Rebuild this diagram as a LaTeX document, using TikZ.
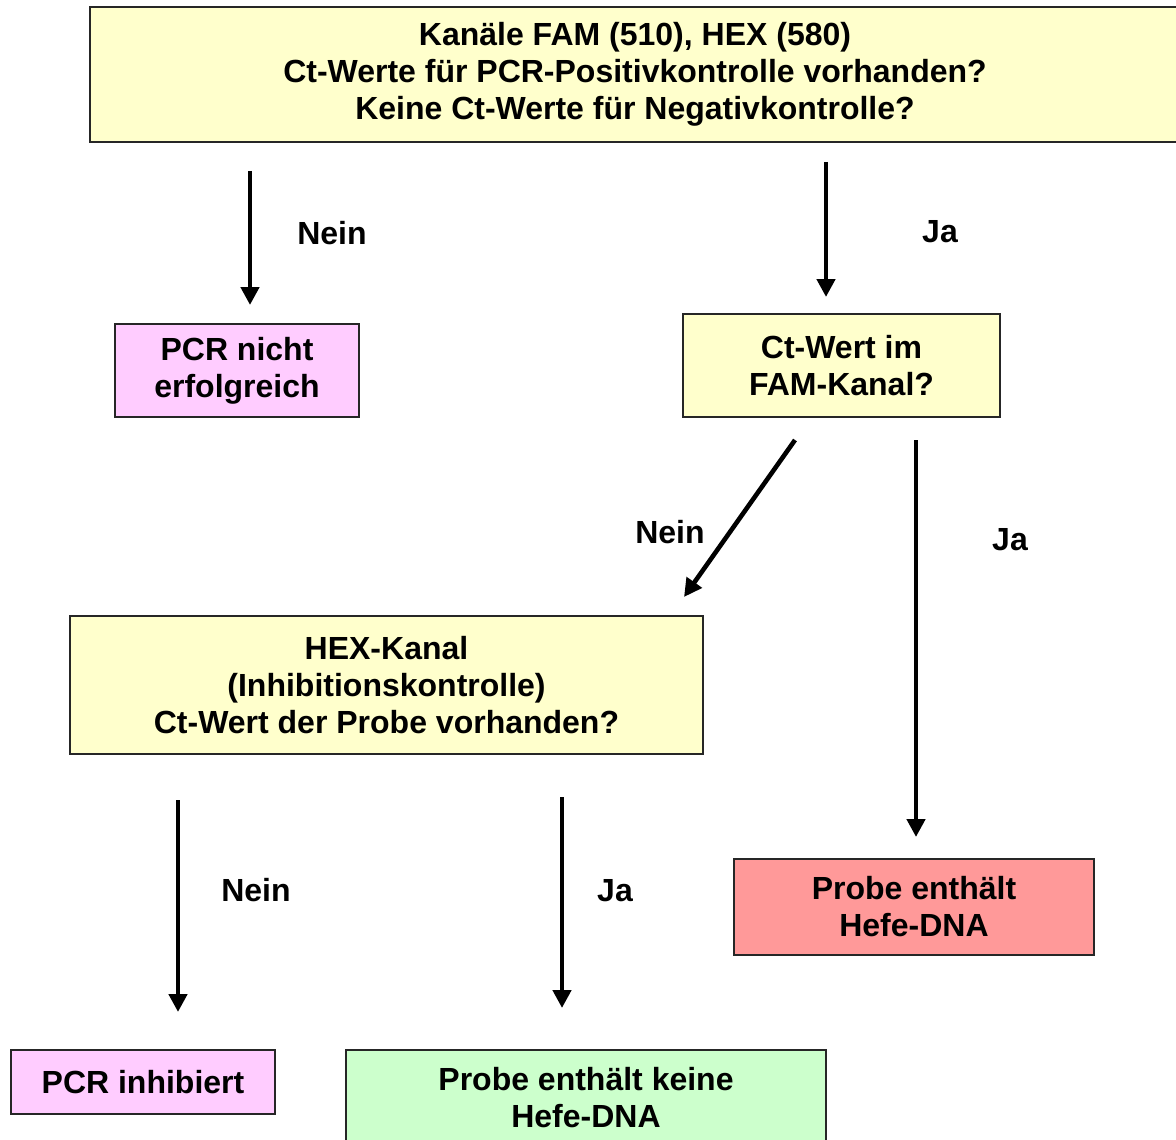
\documentclass[tikz,border=0pt]{standalone}
\usepackage{fontspec}
\setmainfont{Liberation Sans}
\usepackage{tikz}
\usetikzlibrary{positioning,arrows.meta}

\begin{document}
\begin{tikzpicture}[x=0.5pt,y=-0.5pt,
    box/.style={draw=black!85,line width=1pt,inner sep=0pt,align=center,
      font=\fontsize{16}{18.5}\selectfont\bfseries},
    lab/.style={font=\fontsize{16}{18.5}\selectfont\bfseries},
    arr/.style={line width=2.3pt,-{Triangle[length=9pt,width=9pt]}}]
      \useasboundingbox (0,0) rectangle (1176,1139);
      % boxes
      \node[box,fill={rgb,255:red,255;green,255;blue,204},minimum width=545pt,minimum height=67.5pt](top) at (635,74.5)
        {Kanäle FAM (510), HEX (580)\\Ct-Werte für PCR-Positivkontrolle vorhanden?\\Keine Ct-Werte für Negativkontrolle?};
      \node[box,fill={rgb,255:red,255;green,204;blue,255},minimum width=122pt,minimum height=46.5pt](fail) at (237,370.5)
        {PCR nicht\\erfolgreich};
      \node[box,fill={rgb,255:red,255;green,255;blue,204},minimum width=158.5pt,minimum height=51.5pt](fam) at (841.5,365.5)
        {Ct-Wert im\\FAM-Kanal?};
      \node[box,fill={rgb,255:red,255;green,255;blue,204},minimum width=316.5pt,minimum height=69pt](hex) at (386.5,685)
        {HEX-Kanal\\(Inhibitionskontrolle)\\Ct-Wert der Probe vorhanden?};
      \node[box,fill={rgb,255:red,255;green,153;blue,153},minimum width=180pt,minimum height=48pt](pos) at (914,907)
        {Probe enthält\\Hefe-DNA};
      \node[box,fill={rgb,255:red,255;green,204;blue,255},minimum width=132pt,minimum height=32pt](inh) at (143,1082)
        {PCR inhibiert};
      \node[box,fill={rgb,255:red,204;green,255;blue,204},minimum width=240pt,minimum height=48pt](neg) at (586,1098)
        {Probe enthält keine\\Hefe-DNA};
      % arrow ends
      \coordinate (a1) at (250,171);  \coordinate (b1) at (250,305);
      \coordinate (a2) at (826,162);  \coordinate (b2) at (826,297);
      \coordinate (a3) at (795,440);  \coordinate (b3) at (684,597);
      \coordinate (a4) at (916,440);  \coordinate (b4) at (916,837);
      \coordinate (a5) at (178,800);  \coordinate (b5) at (178,1012);
      \coordinate (a6) at (562,797);  \coordinate (b6) at (562,1008);
      \draw[arr] (a1) -- (b1);
      \draw[arr] (a2) -- (b2);
      \draw[arr] (a3) -- (b3);
      \draw[arr] (a4) -- (b4);
      \draw[arr] (a5) -- (b5);
      \draw[arr] (a6) -- (b6);
      % labels
      \node[lab](n1) at (332,233){Nein};
      \node[lab](j1) at (940,232){Ja};
      \node[lab](n2) at (670,532){Nein};
      \node[lab](j2) at (1010,540){Ja};
      \node[lab](n3) at (256,890){Nein};
      \node[lab](j3) at (615,891){Ja};
    \end{tikzpicture}
\end{document}
